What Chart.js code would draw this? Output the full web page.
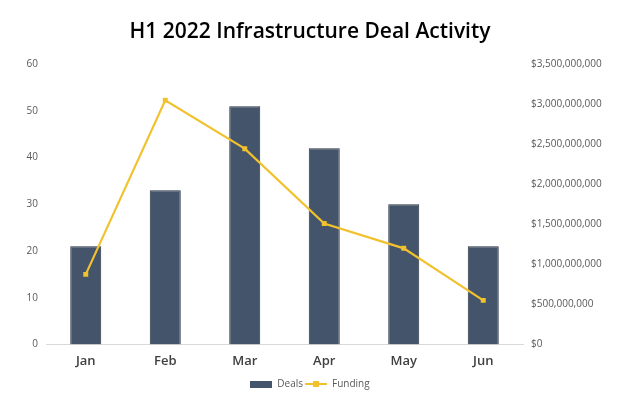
<!DOCTYPE html>
<html>
<head>
<meta charset="utf-8">
<script src="https://cdn.jsdelivr.net/npm/chart.js@4.4.0/dist/chart.umd.min.js"></script>
<style>
  html, body { margin: 0; padding: 0; background: #fff; }
  #wrap { width: 620px; height: 399px; }
</style>
</head>
<body>
<div id="wrap"><canvas id="myCanvas" width="620" height="399"></canvas></div>
<script>
// data
const months = ['Jan', 'Feb', 'Mar', 'Apr', 'May', 'Jun'];
const deals = [21, 33, 51, 42, 30, 21];
const funding = [875000000, 3050000000, 2445000000, 1510000000, 1200000000, 550000000];

const barColor = '#44546A';
const lineColor = '#F2C12E';
const fontFam = "'Open Sans', 'Noto Sans', sans-serif";

// little legend icons (Excel style)
function makeIcon(kind) {
  const c = document.createElement('canvas');
  c.width = 22; c.height = 8;
  const g = c.getContext('2d');
  if (kind === 'bar') {
    g.fillStyle = barColor;
    g.fillRect(0, 1, 22, 7);
  } else {
    g.strokeStyle = lineColor;
    g.lineWidth = 2;
    g.beginPath(); g.moveTo(0, 4); g.lineTo(22, 4); g.stroke();
    g.fillStyle = lineColor;
    g.fillRect(8, 1, 6, 6);
  }
  return c;
}
const barIcon = makeIcon('bar');
const lineIcon = makeIcon('line');

const ctx = document.getElementById('myCanvas').getContext('2d');
const myChart = new Chart(ctx, {
  data: {
    labels: months,
    datasets: [
      {
        type: 'line',
        label: 'Funding',
        data: funding,
        yAxisID: 'y1',
        borderColor: lineColor,
        backgroundColor: lineColor,
        borderWidth: 2.2,
        pointStyle: 'rect',
        pointRadius: 3.5,
        pointBorderWidth: 0,
        tension: 0,
        order: 0
      },
      {
        type: 'bar',
        label: 'Deals',
        data: deals,
        yAxisID: 'y',
        backgroundColor: barColor,
        borderColor: '#26313F',
        borderWidth: 1,
        categoryPercentage: 1,
        barPercentage: 0.39,
        order: 1
      }
    ]
  },
  options: {
    responsive: false,
    animation: false,
    layout: { padding: { left: 0, right: 0, top: 0, bottom: 0 } },
    plugins: {
      title: {
        display: true,
        text: 'H1 2022 Infrastructure Deal Activity',
        color: '#000',
        font: { family: fontFam, size: 21, weight: '600' },
        padding: { top: 19, bottom: 20 }
      },
      legend: {
        position: 'bottom',
        labels: {
          usePointStyle: true,
          pointStyleWidth: 22,
          boxHeight: 8,
          color: '#595959',
          font: { family: fontFam, size: 10 },
          padding: 2,
          generateLabels(chart) {
            return [
              { text: 'Deals', pointStyle: barIcon, datasetIndex: 1, fontColor: '#595959' },
              { text: 'Funding', pointStyle: lineIcon, datasetIndex: 0, fontColor: '#595959' }
            ];
          }
        }
      },
      tooltip: { enabled: false }
    },
    scales: {
      x: {
        grid: { display: false, drawTicks: false },
        border: { display: true, color: '#D9D9D9', width: 1 },
        ticks: { color: '#404040', font: { family: fontFam, size: 13, weight: '600' }, padding: 9 },
        afterFit(scale) { scale.height -= 1; }
      },
      y: {
        position: 'left',
        min: 0, max: 60,
        grid: { display: false, drawTicks: false },
        border: { display: false },
        ticks: { stepSize: 10, color: '#595959', font: { family: fontFam, size: 10 }, padding: 8 },
        afterFit(scale) { scale.width = 46; }
      },
      y1: {
        position: 'right',
        min: 0, max: 3500000000,
        grid: { display: false, drawTicks: false },
        border: { display: false },
        ticks: {
          stepSize: 500000000,
          color: '#595959',
          font: { family: fontFam, size: 10 },
          padding: 8,
          callback: (v) => '$' + Number(v).toLocaleString('en-US')
        },
        afterFit(scale) { scale.width = 97; }
      }
    }
  }
});
</script>
</body>
</html>
